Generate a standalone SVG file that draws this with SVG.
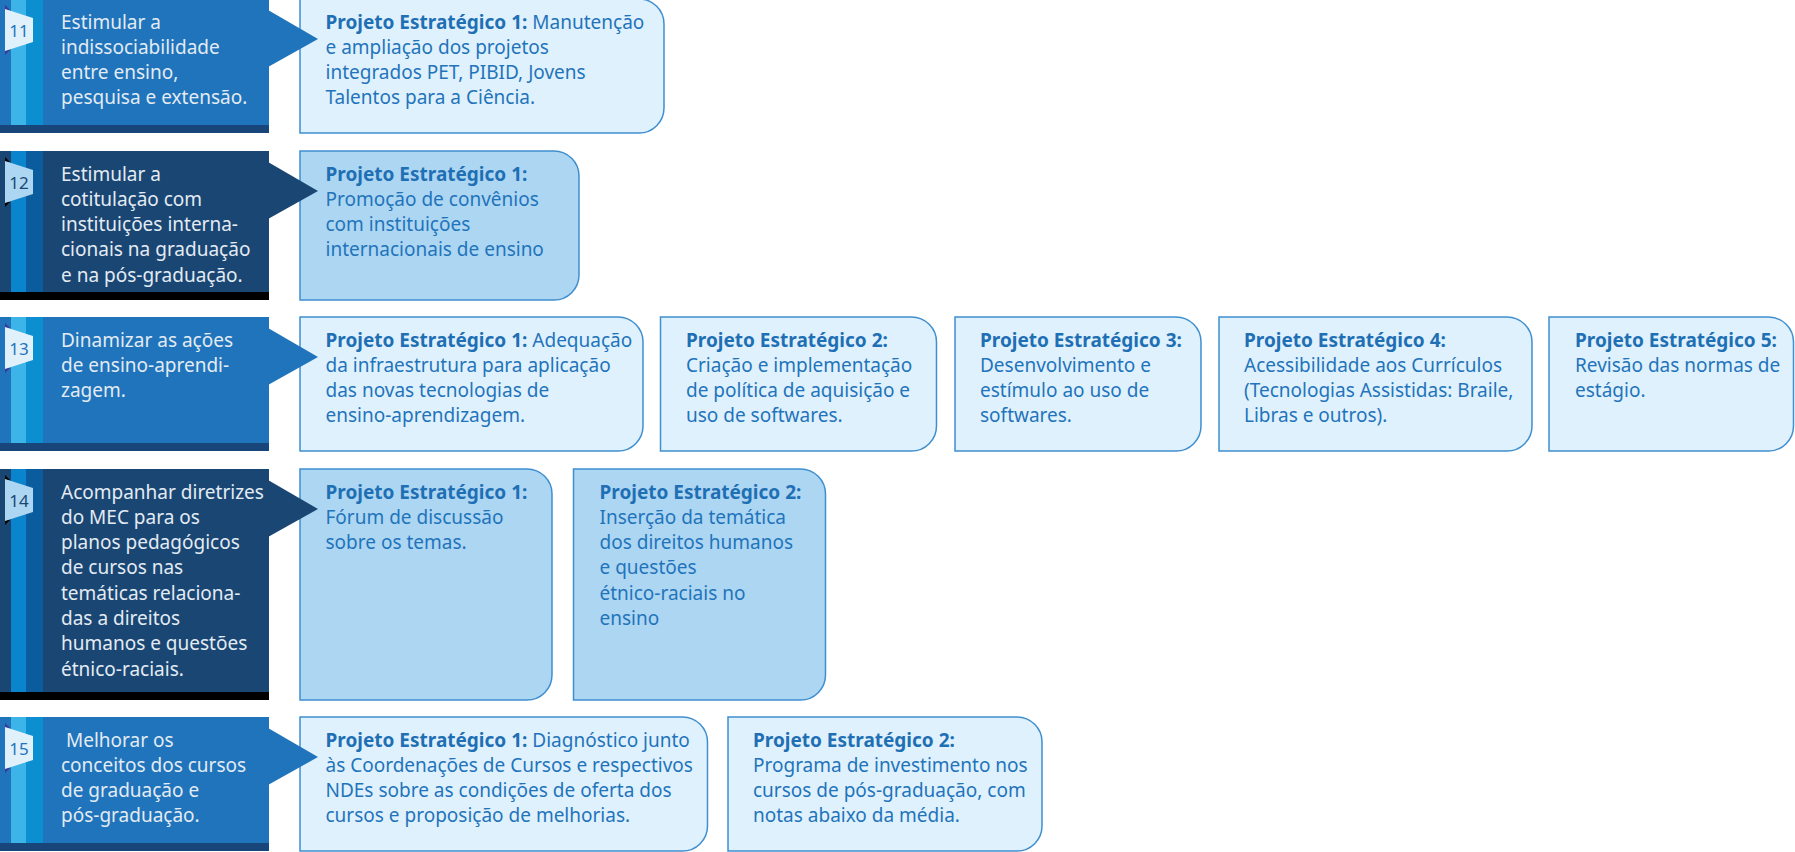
<svg xmlns="http://www.w3.org/2000/svg" width="1795" height="852" viewBox="0 0 1795 852">
<style>
.ml{fill:#1f74bb}.md{fill:#1a4674}
.sl1{fill:#3db4e8}.sl2{fill:#0b8fd0}
.sd1{fill:#0a84cc}.sd2{fill:#0a5c9c}
.barl{fill:#18467a}.bard{fill:#000}
.badl{fill:#e0f1fc}.badd{fill:#add6f2}
.tril{fill:#3a3a96}.trid{fill:#000}
.bx{stroke:#3f8fd0;stroke-width:1.5}
.bxl{fill:#dff1fc}.bxd{fill:#add6f2}
.bt{font-family:"Noto Sans",sans-serif;font-size:19px;fill:#e3ebf3}
.pt{font-family:"Noto Sans",sans-serif;font-size:19px;fill:#1f74bb}
.b{font-weight:700;fill:#1e6fb4}
.num{font-family:"Noto Sans",sans-serif;font-size:17px;text-anchor:middle}
.nl{fill:#1f74bb}.nd{fill:#1a4674}
</style>

<!-- Row 11 -->
<g id="obj11" transform="translate(0,-1)">
<rect class="ml" x="0" y="0" width="269" height="126"/>
<rect class="sl1" x="11" y="0" width="15" height="126"/>
<rect class="sl2" x="26" y="0" width="17" height="126"/>
<rect class="barl" x="0" y="126" width="269" height="8"/>
<polygon class="tril" points="5,6 10,11 5,11"/><polygon class="tril" points="5,51 10,51 5,56"/>
<polygon class="badl" points="5,10 33,19 33,43 5,52"/>
<text class="num nl" x="19" y="37.5">11</text>
<text class="bt"><tspan x="61" y="29.5">Estimular a</tspan><tspan x="61" dy="25.3">indissociabilidade</tspan><tspan x="61" dy="25.3">entre ensino,</tspan><tspan x="61" dy="25.3">pesquisa e extensão.</tspan></text>
</g>
<g id="p11-1" transform="translate(0,-1)">
<path class="bx bxl" d="M300,0 H639 A25,25 0 0 1 664,25 V109 A25,25 0 0 1 639,134 H300 Z"/>
<text class="pt"><tspan x="325.5" y="29.5" class="b">Projeto Estratégico 1:</tspan><tspan> Manutenção</tspan><tspan x="325.5" dy="25.3">e ampliação dos projetos</tspan><tspan x="325.5" dy="25.3">integrados PET, PIBID, Jovens</tspan><tspan x="325.5" dy="25.3">Talentos para a Ciência.</tspan></text>
</g>

<!-- Row 12 -->
<g id="obj12" transform="translate(0,151)">
<rect class="md" x="0" y="0" width="269" height="141"/>
<rect class="sd1" x="11" y="0" width="15" height="141"/>
<rect class="sd2" x="26" y="0" width="17" height="141"/>
<rect class="bard" x="0" y="141" width="269" height="8"/>
<polygon class="trid" points="5,6 10,11 5,11"/><polygon class="trid" points="5,51 10,51 5,56"/>
<polygon class="badd" points="5,10 33,19 33,43 5,52"/>
<text class="num nd" x="19" y="37.5">12</text>
<text class="bt"><tspan x="61" y="29.5">Estimular a</tspan><tspan x="61" dy="25.3">cotitulação com</tspan><tspan x="61" dy="25.3">instituições interna-</tspan><tspan x="61" dy="25.3">cionais na graduação</tspan><tspan x="61" dy="25.3">e na pós-graduação.</tspan></text>
</g>
<g id="p12-1" transform="translate(0,151)">
<path class="bx bxd" d="M300,0 H554 A25,25 0 0 1 579,25 V124 A25,25 0 0 1 554,149 H300 Z"/>
<text class="pt"><tspan x="325.5" y="29.5" class="b">Projeto Estratégico 1:</tspan><tspan x="325.5" dy="25.3">Promoção de convênios</tspan><tspan x="325.5" dy="25.3">com instituições</tspan><tspan x="325.5" dy="25.3">internacionais de ensino</tspan></text>
</g>

<!-- Row 13 -->
<g id="obj13" transform="translate(0,317)">
<rect class="ml" x="0" y="0" width="269" height="126"/>
<rect class="sl1" x="11" y="0" width="15" height="126"/>
<rect class="sl2" x="26" y="0" width="17" height="126"/>
<rect class="barl" x="0" y="126" width="269" height="8"/>
<polygon class="tril" points="5,6 10,11 5,11"/><polygon class="tril" points="5,51 10,51 5,56"/>
<polygon class="badl" points="5,10 33,19 33,43 5,52"/>
<text class="num nl" x="19" y="37.5">13</text>
<text class="bt"><tspan x="61" y="29.5">Dinamizar as ações</tspan><tspan x="61" dy="25.3">de ensino-aprendi-</tspan><tspan x="61" dy="25.3">zagem.</tspan></text>
</g>
<g id="p13-1" transform="translate(0,317)">
<path class="bx bxl" d="M300,0 H618 A25,25 0 0 1 643,25 V109 A25,25 0 0 1 618,134 H300 Z"/>
<text class="pt"><tspan x="325.5" y="29.5" class="b">Projeto Estratégico 1:</tspan><tspan> Adequação</tspan><tspan x="325.5" dy="25.3">da infraestrutura para aplicação</tspan><tspan x="325.5" dy="25.3">das novas tecnologias de</tspan><tspan x="325.5" dy="25.3">ensino-aprendizagem.</tspan></text>
</g>
<g id="p13-2" transform="translate(0,317)">
<path class="bx bxl" d="M660.5,0 H911.5 A25,25 0 0 1 936.5,25 V109 A25,25 0 0 1 911.5,134 H660.5 Z"/>
<text class="pt"><tspan x="686" y="29.5" class="b">Projeto Estratégico 2:</tspan><tspan x="686" dy="25.3">Criação e implementação</tspan><tspan x="686" dy="25.3">de política de aquisição e</tspan><tspan x="686" dy="25.3">uso de softwares.</tspan></text>
</g>
<g id="p13-3" transform="translate(0,317)">
<path class="bx bxl" d="M955,0 H1176 A25,25 0 0 1 1201,25 V109 A25,25 0 0 1 1176,134 H955 Z"/>
<text class="pt"><tspan x="980" y="29.5" class="b">Projeto Estratégico 3:</tspan><tspan x="980" dy="25.3">Desenvolvimento e</tspan><tspan x="980" dy="25.3">estímulo ao uso de</tspan><tspan x="980" dy="25.3">softwares.</tspan></text>
</g>
<g id="p13-4" transform="translate(0,317)">
<path class="bx bxl" d="M1219,0 H1507 A25,25 0 0 1 1532,25 V109 A25,25 0 0 1 1507,134 H1219 Z"/>
<text class="pt"><tspan x="1244" y="29.5" class="b">Projeto Estratégico 4:</tspan><tspan x="1244" dy="25.3">Acessibilidade aos Currículos</tspan><tspan x="1244" dy="25.3">(Tecnologias Assistidas: Braile,</tspan><tspan x="1244" dy="25.3">Libras e outros).</tspan></text>
</g>
<g id="p13-5" transform="translate(0,317)">
<path class="bx bxl" d="M1549,0 H1768.5 A25,25 0 0 1 1793.5,25 V109 A25,25 0 0 1 1768.5,134 H1549 Z"/>
<text class="pt"><tspan x="1575" y="29.5" class="b">Projeto Estratégico 5:</tspan><tspan x="1575" dy="25.3">Revisão das normas de</tspan><tspan x="1575" dy="25.3">estágio.</tspan></text>
</g>

<!-- Row 14 -->
<g id="obj14" transform="translate(0,469)">
<rect class="md" x="0" y="0" width="269" height="223"/>
<rect class="sd1" x="11" y="0" width="15" height="223"/>
<rect class="sd2" x="26" y="0" width="17" height="223"/>
<rect class="bard" x="0" y="223" width="269" height="8"/>
<polygon class="trid" points="5,6 10,11 5,11"/><polygon class="trid" points="5,51 10,51 5,56"/>
<polygon class="badd" points="5,10 33,19 33,43 5,52"/>
<text class="num nd" x="19" y="37.5">14</text>
<text class="bt"><tspan x="61" y="29.5">Acompanhar diretrizes</tspan><tspan x="61" dy="25.3">do MEC para os</tspan><tspan x="61" dy="25.3">planos pedagógicos</tspan><tspan x="61" dy="25.3">de cursos nas</tspan><tspan x="61" dy="25.3">temáticas relaciona-</tspan><tspan x="61" dy="25.3">das a direitos</tspan><tspan x="61" dy="25.3">humanos e questões</tspan><tspan x="61" dy="25.3">étnico-raciais.</tspan></text>
</g>
<g id="p14-1" transform="translate(0,469)">
<path class="bx bxd" d="M300,0 H527 A25,25 0 0 1 552,25 V206 A25,25 0 0 1 527,231 H300 Z"/>
<text class="pt"><tspan x="325.5" y="29.5" class="b">Projeto Estratégico 1:</tspan><tspan x="325.5" dy="25.3">Fórum de discussão</tspan><tspan x="325.5" dy="25.3">sobre os temas.</tspan></text>
</g>
<g id="p14-2" transform="translate(0,469)">
<path class="bx bxd" d="M573.5,0 H800.5 A25,25 0 0 1 825.5,25 V206 A25,25 0 0 1 800.5,231 H573.5 Z"/>
<text class="pt"><tspan x="599.5" y="29.5" class="b">Projeto Estratégico 2:</tspan><tspan x="599.5" dy="25.3">Inserção da temática</tspan><tspan x="599.5" dy="25.3">dos direitos humanos</tspan><tspan x="599.5" dy="25.3">e questões</tspan><tspan x="599.5" dy="25.3">étnico-raciais no</tspan><tspan x="599.5" dy="25.3">ensino</tspan></text>
</g>

<!-- Row 15 -->
<g id="obj15" transform="translate(0,717)">
<rect class="ml" x="0" y="0" width="269" height="126"/>
<rect class="sl1" x="11" y="0" width="15" height="126"/>
<rect class="sl2" x="26" y="0" width="17" height="126"/>
<rect class="barl" x="0" y="126" width="269" height="8"/>
<polygon class="tril" points="5,6 10,11 5,11"/><polygon class="tril" points="5,51 10,51 5,56"/>
<polygon class="badl" points="5,10 33,19 33,43 5,52"/>
<text class="num nl" x="19" y="37.5">15</text>
<text class="bt"><tspan x="66" y="29.5">Melhorar os</tspan><tspan x="61" dy="25.3">conceitos dos cursos</tspan><tspan x="61" dy="25.3">de graduação e</tspan><tspan x="61" dy="25.3">pós-graduação.</tspan></text>
</g>
<g id="p15-1" transform="translate(0,717)">
<path class="bx bxl" d="M300,0 H682.5 A25,25 0 0 1 707.5,25 V109 A25,25 0 0 1 682.5,134 H300 Z"/>
<text class="pt"><tspan x="325.5" y="29.5" class="b">Projeto Estratégico 1:</tspan><tspan> Diagnóstico junto</tspan><tspan x="325.5" dy="25.3">às Coordenações de Cursos e respectivos</tspan><tspan x="325.5" dy="25.3">NDEs sobre as condições de oferta dos</tspan><tspan x="325.5" dy="25.3">cursos e proposição de melhorias.</tspan></text>
</g>
<g id="p15-2" transform="translate(0,717)">
<path class="bx bxl" d="M728,0 H1017 A25,25 0 0 1 1042,25 V109 A25,25 0 0 1 1017,134 H728 Z"/>
<text class="pt"><tspan x="753" y="29.5" class="b">Projeto Estratégico 2:</tspan><tspan x="753" dy="25.3">Programa de investimento nos</tspan><tspan x="753" dy="25.3">cursos de pós-graduação, com</tspan><tspan x="753" dy="25.3">notas abaixo da média.</tspan></text>
</g>

<g id="connectors">
<polygon class="ml" points="268,10 318,39 268,67"/>
<polygon class="md" points="268,162 318,191 268,219"/>
<polygon class="ml" points="268,328 318,357 268,385"/>
<polygon class="md" points="268,480 318,509 268,537"/>
<polygon class="ml" points="268,728 318,757 268,785"/>
</g>
</svg>
